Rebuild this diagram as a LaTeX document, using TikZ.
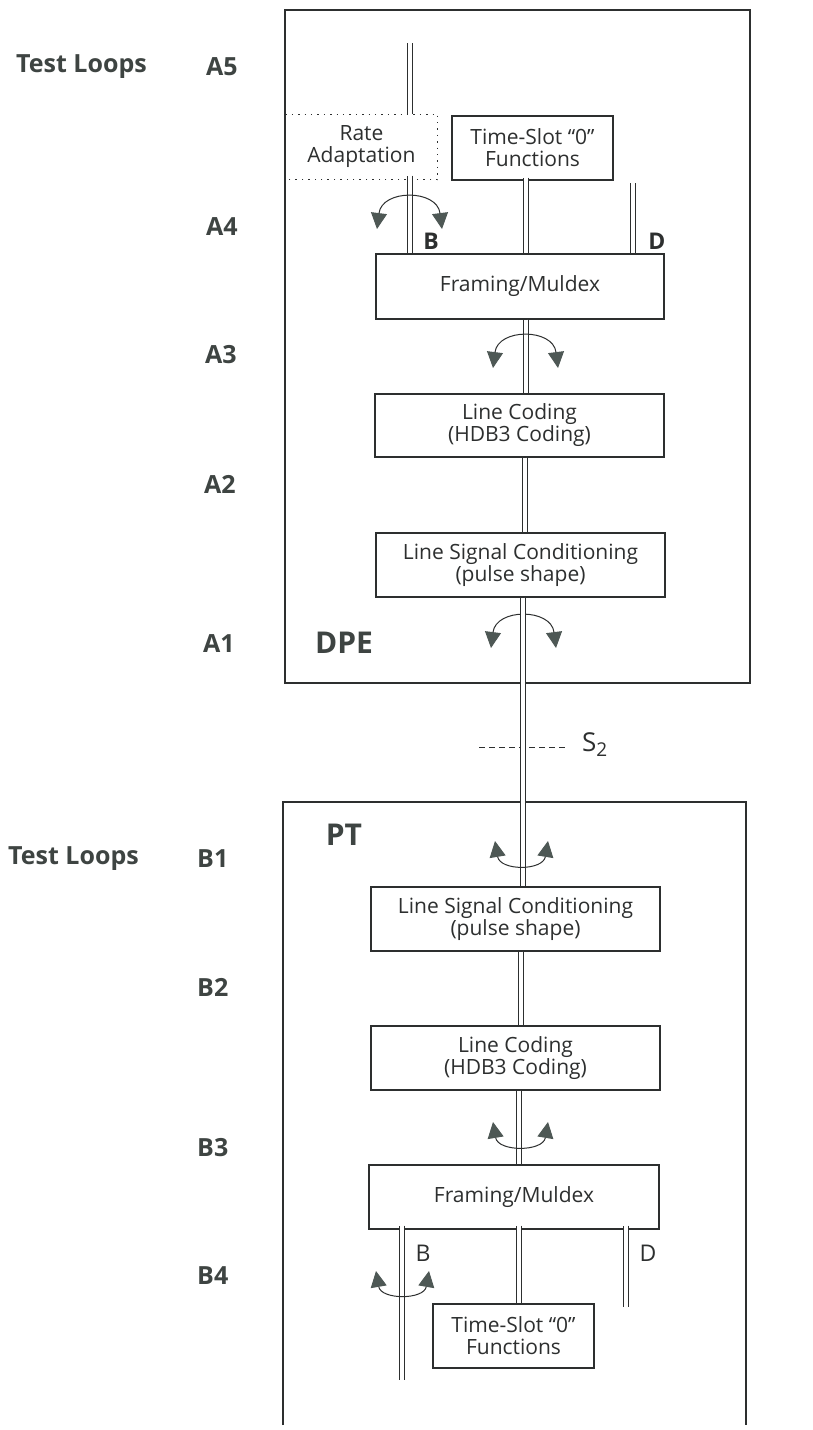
\documentclass[tikz,border=0pt]{standalone}
\usepackage{fontspec}
\setmainfont{Open Sans}
\usetikzlibrary{arrows.meta}

\definecolor{ink}{RGB}{45,47,47}
\definecolor{lab}{RGB}{62,68,66}
\definecolor{tipc}{RGB}{78,88,85}

\begin{document}
\begin{tikzpicture}[x=1pt,y=-1pt,
  box/.style={draw=ink, line width=1.3pt, inner sep=0pt, align=center,
    font=\fontsize{21}{22}\selectfont, text=ink},
  wire/.style={draw=ink, double=white, double distance=3.6pt, line width=0.9pt},
  lbl/.style={font=\fontsize{25}{27}\selectfont\bfseries, text=lab, anchor=west, inner sep=0pt},
  tagb/.style={font=\fontsize{23}{25}\selectfont\bfseries, text=ink, inner sep=0pt},
  tagr/.style={font=\fontsize{23}{25}\selectfont, text=ink, inner sep=0pt},
  unit/.style={font=\fontsize{30}{32}\selectfont\bfseries, text=lab, inner sep=0pt},
  loopar/.style={draw=ink, line width=1pt,
    {Triangle[length=16pt,width=16pt,color=tipc]}-{Triangle[length=16pt,width=16pt,color=tipc]}},
  outer/.style={draw=ink, line width=1.3pt},
]
\fill[white] (0,0) rectangle (812,1430);
\useasboundingbox (0,0) rectangle (812,1430);

% ---------------- left labels ----------------
\node[lbl] (tl1) at (16,67) {Test Loops};
\node[lbl] (a5) at (206,67) {A5};
\node[lbl] (a4) at (206,227) {A4};
\node[lbl] (a3) at (205,355) {A3};
\node[lbl] (a2) at (204,484) {A2};
\node[lbl] (a1) at (203,644) {A1};
\node[lbl] (tl2) at (8,859) {Test Loops};
\node[lbl] (b1) at (197,859) {B1};
\node[lbl] (b2) at (197,987) {B2};
\node[lbl] (b3) at (197,1148) {B3};
\node[lbl] (b4) at (197,1276) {B4};

% ---------------- DPE ----------------
\draw[outer] (285,10) rectangle (750,683);
\node[unit] (dpe) at (344,643) {DPE};

\node[box, draw=none, minimum width=151pt, minimum height=64pt] (ra) at (361.5,147) {Rate\\Adaptation};
\draw[ink, line width=1.4pt, dash pattern=on 1.4pt off 5pt] (ra.north west) -- (ra.north east) -- (ra.south east) -- (ra.south west);
\node[box, minimum width=161pt, minimum height=64pt] (ts1) at (532.5,148) {Time-Slot “0”\\Functions};
\node[box, minimum width=288pt, minimum height=65pt] (fm1) at (520,286.5) {Framing/Muldex};
\node[box, minimum width=289pt, minimum height=63pt] (lc1) at (519.5,425.5) {Line Coding\\(HDB3 Coding)};
\node[box, minimum width=289pt, minimum height=64pt] (lsc1) at (520.5,565) {Line Signal Conditioning\\(pulse shape)};

\coordinate (in1) at (410,43);
\draw[wire] (in1) -- (in1 |- ra.north);
\draw[wire] ([yshift=4pt]ra.south -| in1) -- (fm1.north -| in1);
\coordinate (m1) at (526,0);
\draw[wire] ([yshift=3pt]ts1.south -| m1) -- (fm1.north -| m1);
\coordinate (d1) at (633,183);
\draw[wire] (d1) -- (fm1.north -| d1);
\draw[wire] (fm1.south -| m1) -- (lc1.north -| m1);
\coordinate (m2) at (525,0);
\draw[wire] (lc1.south -| m2) -- (lsc1.north -| m2);

\node[tagb] (bt) at (431,241) {B};
\node[tagb] (dt) at (657,241) {D};

\draw[loopar] (377,229) .. controls (382,189) and (437,189) .. (442,229);
\draw[loopar] (493,368) .. controls (498,328) and (553,328) .. (558,368);
\draw[loopar] (491,648) .. controls (496,608) and (551,608) .. (556,648);

% ---------------- S2 ----------------
\draw[ink, line width=1pt, dash pattern=on 6pt off 4pt] (479,747) coordinate (s2a) -- (567,747) coordinate (s2b);
\node[font=\fontsize{26}{28}\selectfont, text=ink, anchor=west, inner sep=0pt] (s2) at (582,745)
  {S\raisebox{-0.35ex}{\fontsize{19}{20}\selectfont 2}};

% ---------------- PT ----------------
\draw[outer] (283,1425) -- (283,802) -- (746,802) -- (746,1425);
\node[unit] (pt) at (344,835) {PT};

\node[box, minimum width=289pt, minimum height=64pt] (lsc2) at (515.5,919) {Line Signal Conditioning\\(pulse shape)};
\node[box, minimum width=289pt, minimum height=64pt] (lc2) at (515.5,1058) {Line Coding\\(HDB3 Coding)};
\node[box, minimum width=290pt, minimum height=64pt] (fm2) at (514,1197) {Framing/Muldex};
\node[box, minimum width=161pt, minimum height=64pt] (ts2) at (513.5,1336) {Time-Slot “0”\\Functions};

\coordinate (m3) at (523,0);
\draw[wire] (lsc1.south -| m3) -- (lsc2.north -| m3);
\coordinate (m4) at (521,0);
\draw[wire] (lsc2.south -| m4) -- (lc2.north -| m4);
\coordinate (m5) at (519,0);
\draw[wire] (lc2.south -| m5) -- (fm2.north -| m5);
\draw[wire] ([yshift=4pt]fm2.south -| m5) -- (ts2.north -| m5);
\coordinate (bb) at (402,1380);
\draw[wire] ([yshift=4pt]fm2.south -| bb) -- (bb);
\coordinate (db) at (626,1307);
\draw[wire] ([yshift=4pt]fm2.south -| db) -- (db);

\node[tagr] (bb2) at (423,1253) {B};
\node[tagr] (db2) at (648,1253) {D};

\draw[loopar] (495,841) .. controls (500,871) and (543,871) .. (548,841);
\draw[loopar] (493,1122) .. controls (498,1152) and (543,1152) .. (548,1122);
\draw[loopar] (376,1271) .. controls (381,1300) and (424,1300) .. (429,1271);
\end{tikzpicture}
\end{document}
